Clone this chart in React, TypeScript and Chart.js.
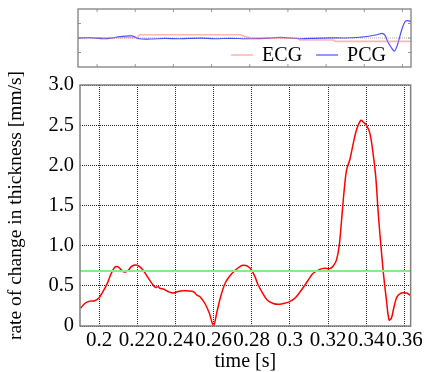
import React, { useEffect, useRef } from "react";
import { Chart, registerables } from "chart.js";

Chart.register(...registerables);

const FONT = "'Liberation Serif', 'DejaVu Serif', serif";

// ---------- main chart data ----------
const rateTime = [
  0.1903, 0.1925, 0.1951, 0.1977, 0.1998, 0.2021, 0.2043, 0.2064, 0.2082, 0.2096,
  0.2114, 0.2131, 0.2152, 0.2169, 0.2187, 0.2208, 0.223, 0.2253, 0.2277, 0.2295,
  0.231, 0.2318, 0.234, 0.2361, 0.2387, 0.2414, 0.244, 0.2466, 0.2492, 0.2503,
  0.2515, 0.2529, 0.2555, 0.2578, 0.26, 0.2616, 0.2637, 0.266, 0.2682, 0.2712,
  0.2738, 0.2756, 0.2782, 0.2799, 0.2817, 0.2834, 0.2857, 0.2881, 0.2913, 0.2939,
  0.2965, 0.2996, 0.3026, 0.3052, 0.3079, 0.3101, 0.3122, 0.3157, 0.3183, 0.3209,
  0.3227, 0.3244, 0.3258, 0.3271, 0.3283, 0.3297, 0.3314, 0.3332, 0.3349, 0.3372,
  0.3384, 0.3401, 0.3419, 0.3436, 0.345, 0.3462, 0.3476, 0.3492, 0.3506, 0.352,
  0.3532, 0.3546, 0.3562, 0.3585, 0.3611, 0.3633,
];
const rateValues = [
  0.22, 0.28, 0.31, 0.315, 0.345, 0.43, 0.53, 0.656, 0.73, 0.74,
  0.705, 0.672, 0.69, 0.74, 0.76, 0.747, 0.697, 0.614, 0.53, 0.48,
  0.49, 0.47, 0.457, 0.43, 0.41, 0.43, 0.44, 0.436, 0.43, 0.41,
  0.38, 0.365, 0.28, 0.158, 0.005, 0.158, 0.365, 0.53, 0.614, 0.69,
  0.74, 0.755, 0.74, 0.697, 0.614, 0.51, 0.41, 0.324, 0.28, 0.27,
  0.28, 0.3, 0.345, 0.42, 0.51, 0.59, 0.656, 0.705, 0.718, 0.714,
  0.747, 0.82, 0.99, 1.32, 1.65, 1.94, 2.07, 2.27, 2.44, 2.56,
  2.54, 2.5, 2.4, 2.15, 1.86, 1.44, 1.03, 0.614, 0.324, 0.075,
  0.096, 0.24, 0.365, 0.41, 0.41, 0.38,
];
const thresholdValue = 0.685;

const xMin = 0.19;
const xMax = 0.3633;
const xTicks = [0.2, 0.22, 0.24, 0.26, 0.28, 0.3, 0.32, 0.34, 0.36];
const xTickLabels = ["0.2", "0.22", "0.24", "0.26", "0.28", "0.3", "0.32", "0.34", "0.36"];
const yTicks = [0, 0.5, 1.0, 1.5, 2.0, 2.5, 3.0];
const yTickLabels = ["0", "0.5", "1.0", "1.5", "2.0", "2.5", "3.0"];

// ---------- mini chart data ----------
const ecgTime = [0.19, 0.2212, 0.2222, 0.2749, 0.2775, 0.2801, 0.3048, 0.3063, 0.3236, 0.325, 0.3645];
const ecgValues = [0.02, 0.02, 0.22, 0.22, 0.1, 0.01, -0.02, -0.14, -0.14, -0.23, -0.23];

const pcgTime = [
  0.19, 0.1963, 0.2036, 0.2078, 0.212, 0.2183, 0.222, 0.2277, 0.2356, 0.2434,
  0.2539, 0.2618, 0.2697, 0.2775, 0.2854, 0.2906, 0.2958, 0.3011, 0.3063, 0.3142,
  0.322, 0.3299, 0.3377, 0.343, 0.3472, 0.3492, 0.3508, 0.3524, 0.354, 0.3558,
  0.3572, 0.3587, 0.3603, 0.3616, 0.3629, 0.3645,
];
const pcgValues = [
  0, 0.02, -0.05, 0, 0.09, 0.14, -0.05, -0.07, -0.03, -0.05,
  -0.01, -0.05, -0.02, -0.05, -0.04, -0.01, 0.05, 0, -0.05, -0.02,
  0.01, 0, 0.05, 0.14, 0.24, 0.32, 0.2, -0.28, -0.62, -0.9,
  -0.55, 0.14, 0.83, 1.17, 1.2, 1.14,
];
const miniXMin = 0.19;
const miniXMax = 0.3645;
const miniYTicks = [-1, 0, 1];

const zip = (xs: number[], ys: number[]) => xs.map((x, i) => ({ x, y: ys[i] }));

const framePlugin = {
  id: "frame",
  afterDraw(chart: any, _args: any, opts: any) {
    const { ctx, chartArea } = chart;
    ctx.save();
    ctx.strokeStyle = opts.color || "#808080";
    ctx.lineWidth = opts.width || 1.5;
    ctx.setLineDash([]);
    ctx.strokeRect(chartArea.left, chartArea.top, chartArea.right - chartArea.left, chartArea.bottom - chartArea.top);
    ctx.restore();
  },
};

const miniDecorPlugin = {
  id: "miniDecor",
  beforeDatasetsDraw(chart: any) {
    const { ctx, chartArea, scales } = chart;
    ctx.save();
    const y0 = scales.y.getPixelForValue(0);
    ctx.strokeStyle = "rgba(150,150,150,0.8)";
    ctx.lineWidth = 1;
    ctx.setLineDash([1, 1]);
    ctx.beginPath();
    ctx.moveTo(chartArea.left, y0);
    ctx.lineTo(chartArea.right, y0);
    ctx.stroke();
    ctx.setLineDash([]);
    ctx.strokeStyle = "#999";
    const L = 3;
    for (const t of xTicks) {
      const px = scales.x.getPixelForValue(t);
      ctx.beginPath();
      ctx.moveTo(px, chartArea.top);
      ctx.lineTo(px, chartArea.top + L);
      ctx.moveTo(px, chartArea.bottom);
      ctx.lineTo(px, chartArea.bottom - L);
      ctx.stroke();
    }
    for (const v of miniYTicks) {
      const py = scales.y.getPixelForValue(v);
      ctx.beginPath();
      ctx.moveTo(chartArea.left, py);
      ctx.lineTo(chartArea.left + L, py);
      ctx.moveTo(chartArea.right, py);
      ctx.lineTo(chartArea.right - L, py);
      ctx.stroke();
    }
    ctx.restore();
  },
  afterDraw(chart: any) {
    const { ctx, chartArea } = chart;
    const ds = chart.data.datasets;
    ctx.save();
    ctx.font = `20px ${FONT}`;
    ctx.textBaseline = "middle";
    ctx.fillStyle = "#000";
    const lineLen = 22, gap = 9, itemGap = 14;
    const widths = ds.map((d: any) => ctx.measureText(d.label).width);
    let total = 0;
    widths.forEach((w: number, i: number) => {
      total += lineLen + gap + w + (i < widths.length - 1 ? itemGap : 0);
    });
    let x = chartArea.right - 25 - total;
    const y = chartArea.bottom - 12;
    ds.forEach((d: any, i: number) => {
      ctx.strokeStyle = d.borderColor;
      ctx.lineWidth = d.borderWidth;
      ctx.beginPath();
      ctx.moveTo(x, y);
      ctx.lineTo(x + lineLen, y);
      ctx.stroke();
      x += lineLen + gap;
      ctx.fillText(d.label, x, y + 1);
      x += widths[i] + itemGap;
    });
    ctx.restore();
  },
};

export default function App() {
  const miniRef = useRef<HTMLCanvasElement | null>(null);
  const mainRef = useRef<HTMLCanvasElement | null>(null);

  useEffect(() => {
    Chart.defaults.font.family = FONT;
    const mini = new Chart(miniRef.current!, {
      type: "line",
      data: {
        datasets: [
          {
            label: "ECG",
            data: zip(ecgTime, ecgValues),
            borderColor: "rgba(255,120,120,0.55)",
            borderWidth: 1.6,
            pointRadius: 0,
            tension: 0,
          },
          {
            label: "PCG",
            data: zip(pcgTime, pcgValues),
            borderColor: "rgba(60,60,255,0.9)",
            borderWidth: 1.2,
            pointRadius: 0,
            tension: 0.3,
          },
        ],
      },
      options: {
        animation: false,
        responsive: false,
        layout: { padding: { left: 78, right: 14, top: 9, bottom: 8 } },
        plugins: { legend: { display: false }, tooltip: { enabled: false }, frame: { color: "#808080", width: 1.3 } } as any,
        scales: {
          x: { type: "linear", min: miniXMin, max: miniXMax, display: false },
          y: { type: "linear", min: -2, max: 2, display: false },
        },
      },
      plugins: [miniDecorPlugin, framePlugin],
    });

    const gridCommon = {
      color: "rgba(0,0,0,0.85)",
      lineWidth: 1,
      drawTicks: false,
    };
    const main = new Chart(mainRef.current!, {
      type: "line",
      data: {
        datasets: [
          {
            label: "threshold",
            data: [
              { x: xMin, y: thresholdValue },
              { x: xMax, y: thresholdValue },
            ],
            borderColor: "#86ec86",
            borderWidth: 2,
            pointRadius: 0,
          },
          {
            label: "rate",
            data: zip(rateTime, rateValues),
            borderColor: "#ff0000",
            borderWidth: 1.5,
            pointRadius: 0,
            tension: 0.35,
          },
        ],
      },
      options: {
        animation: false,
        responsive: false,
        layout: { padding: { left: 0, right: 14, top: 25, bottom: 0 } },
        plugins: { legend: { display: false }, tooltip: { enabled: false }, frame: { color: "#808080", width: 1.5 } } as any,
        scales: {
          x: {
            type: "linear",
            min: xMin,
            max: xMax,
            afterBuildTicks: (s: any) => {
              s.ticks = xTicks.map((v) => ({ value: v }));
            },
            afterFit: (s: any) => {
              s.height = 46;
            },
            ticks: {
              autoSkip: false,
              maxRotation: 0,
              minRotation: 0,
              padding: 2,
              color: "#000",
              font: { family: FONT, size: 21 },
              callback: (_v: any, i: number) => xTickLabels[i],
            },
            grid: gridCommon,
            border: { display: false, dash: [1, 1] },
            title: {
              display: true,
              text: "time [s]",
              color: "#000",
              font: { family: FONT, size: 20, lineHeight: 1.0 },
              padding: 0,
            },
          },
          y: {
            type: "linear",
            min: 0,
            max: 3,
            afterBuildTicks: (s: any) => {
              s.ticks = yTicks.map((v) => ({ value: v }));
            },
            afterFit: (s: any) => {
              s.width = 80;
            },
            ticks: {
              padding: 6,
              color: "#000",
              font: { family: FONT, size: 20.5 },
              callback: (_v: any, i: number) => yTickLabels[i],
            },
            grid: gridCommon,
            border: { display: false, dash: [1, 1] },
            title: {
              display: true,
              text: "rate of change in thickness [mm/s]",
              color: "#000",
              font: { family: FONT, size: 19.5, lineHeight: 1.0 },
              padding: { top: 6, bottom: 0 },
            },
          },
        },
      },
      plugins: [framePlugin],
    });

    return () => {
      mini.destroy();
      main.destroy();
    };
  }, []);

  return (
    <div style={{ position: "absolute", left: 0, top: 0, width: 425, height: 372, background: "#fff", overflow: "hidden" }}>
      <canvas ref={miniRef} width={425} height={75} style={{ position: "absolute", left: 0, top: 0, width: 425, height: 75 }} />
      <canvas ref={mainRef} width={425} height={312} style={{ position: "absolute", left: 0, top: 60, width: 425, height: 312 }} />
    </div>
  );
}
